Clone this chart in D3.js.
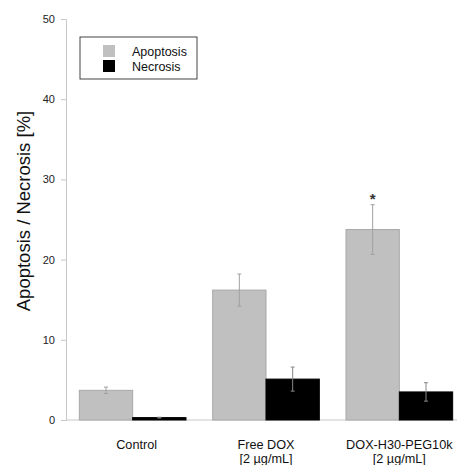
<!DOCTYPE html>
<html>
<head>
<meta charset="utf-8">
<script src="https://cdn.jsdelivr.net/npm/d3@7"></script>
<style>
  body { margin: 0; background: #fff; }
  text { font-family: "Liberation Sans", Arial, sans-serif; }
</style>
</head>
<body>
<script>
const w = 457; // width
const h = 465; // height

// data
const groups = ["Control", "Free DOX", "DOX-H30-PEG10k"];
const subLabels = ["", "[2 \u00b5g/mL]", "[2 \u00b5g/mL]"];
const series = ["Apoptosis", "Necrosis"];
const apoptosis = [3.7, 16.2, 23.75];
const apoptosisErr = [0.4, 2.0, 3.1];
const necrosis = [0.3, 5.1, 3.5];
const necrosisErr = [0.05, 1.5, 1.15];
const yTicks = [0, 10, 20, 30, 40, 50];
const starGroup = "DOX-H30-PEG10k";

const colors = {"Apoptosis": "#c0c0c0", "Necrosis": "#000000"};
const strokes = {"Apoptosis": "#a8a8a8", "Necrosis": "#000000"};

let svg = d3.select("body")
    .append("svg")
    .attr('width', w)
    .attr('height', h);

// scales
let y = d3.scaleLinear()
    .domain([0, 50])
    .range([420, 19]);

let x = d3.scaleBand()
    .domain(groups)
    .range([66, 466])
    .paddingInner(0.2)
    .paddingOuter(0.1);

let xSub = d3.scaleBand()
    .domain(series)
    .range([0, x.bandwidth()]);

// y axis
let axisY = d3.axisLeft(y).tickValues(yTicks).tickSize(5).tickPadding(6);
let gY = svg.append("g")
    .attr('transform', `translate(66,0)`)
    .call(axisY);
gY.select(".domain").attr("stroke", "#c8c8c8");
gY.selectAll(".tick line").attr("stroke", "#c8c8c8");
gY.selectAll(".tick text").attr("font-size", 11).attr("fill", "#222");

// baseline
svg.append("line")
    .attr("x1", 66).attr("x2", w)
    .attr("y1", y(0)).attr("y2", y(0))
    .attr("stroke", "#c8c8c8");

// rows
let rows = groups.map((g, i) => ({
    group: g,
    values: [
        {key: "Apoptosis", v: apoptosis[i], e: apoptosisErr[i]},
        {key: "Necrosis", v: necrosis[i], e: necrosisErr[i]}
    ]
}));

let gGroups = svg.selectAll(".grp")
    .data(rows)
    .enter()
    .append("g")
    .attr("class", "grp")
    .attr("transform", (d) => `translate(${x(d.group)},0)`);

gGroups.selectAll("rect")
    .data((d) => d.values)
    .enter()
    .append("rect")
    .attr("x", (d) => xSub(d.key))
    .attr("y", (d) => y(d.v))
    .attr("width", xSub.bandwidth())
    .attr("height", (d) => y(0) - y(d.v))
    .attr("fill", (d) => colors[d.key])
    .attr("stroke", (d) => strokes[d.key])
    .attr("stroke-width", 1);

// error bars
let err = gGroups.selectAll(".err")
    .data((d) => d.values)
    .enter()
    .append("g")
    .attr("class", "err")
    .attr("stroke", (d) => d.key == "Apoptosis" ? "#a0a0a0" : "#888")
    .attr("stroke-width", 1);

err.append("line")
    .attr("x1", (d) => xSub(d.key) + xSub.bandwidth() / 2)
    .attr("x2", (d) => xSub(d.key) + xSub.bandwidth() / 2)
    .attr("y1", (d) => y(d.v - d.e))
    .attr("y2", (d) => y(d.v + d.e));

[-1, 1].forEach((s) => {
    err.append("line")
        .attr("x1", (d) => xSub(d.key) + xSub.bandwidth() / 2 - 2)
        .attr("x2", (d) => xSub(d.key) + xSub.bandwidth() / 2 + 2)
        .attr("y1", (d) => y(d.v + s * d.e))
        .attr("y2", (d) => y(d.v + s * d.e));
});

// significance star
let si = groups.indexOf(starGroup);
svg.append("text")
    .attr("x", x(starGroup) + xSub("Apoptosis") + xSub.bandwidth() / 2)
    .attr("y", y(apoptosis[si] + apoptosisErr[si]) - 1)
    .attr("text-anchor", "middle")
    .attr("font-size", 15)
    .attr("font-weight", "bold")
    .attr("fill", "#333")
    .text("*");

// category labels
groups.forEach((g, i) => {
    let cx = x(g) + x.bandwidth() / 2 + (i == 0 ? 4 : 0);
    svg.append("text")
        .attr("x", cx)
        .attr("y", 449)
        .attr("text-anchor", "middle")
        .attr("font-size", 12.7)
        .attr("fill", "#111")
        .text(g);
    if (subLabels[i]) {
        svg.append("text")
            .attr("x", cx)
            .attr("y", 463)
            .attr("text-anchor", "middle")
            .attr("font-size", 12.7)
            .attr("fill", "#111")
            .text(subLabels[i]);
    }
});

// y axis label
svg.append("text")
    .attr("text-anchor", "middle")
    .attr("transform", "rotate(-90)")
    .attr("x", -211)
    .attr("y", 30)
    .attr("font-size", 18.5)
    .attr("fill", "#111")
    .text("Apoptosis / Necrosis [%]");

// legend
let legend = svg.append("g").attr("transform", "translate(80,37)");
legend.append("rect")
    .attr("width", 117).attr("height", 42)
    .attr("fill", "#fff")
    .attr("stroke", "#444");
series.forEach((s, i) => {
    legend.append("rect")
        .attr("x", 23).attr("y", 8 + i * 15)
        .attr("width", 12).attr("height", 12)
        .attr("fill", colors[s]);
    legend.append("text")
        .attr("x", 52).attr("y", 19 + i * 15)
        .attr("font-size", 12.5)
        .attr("fill", "#111")
        .text(s);
});
</script>
</body>
</html>
